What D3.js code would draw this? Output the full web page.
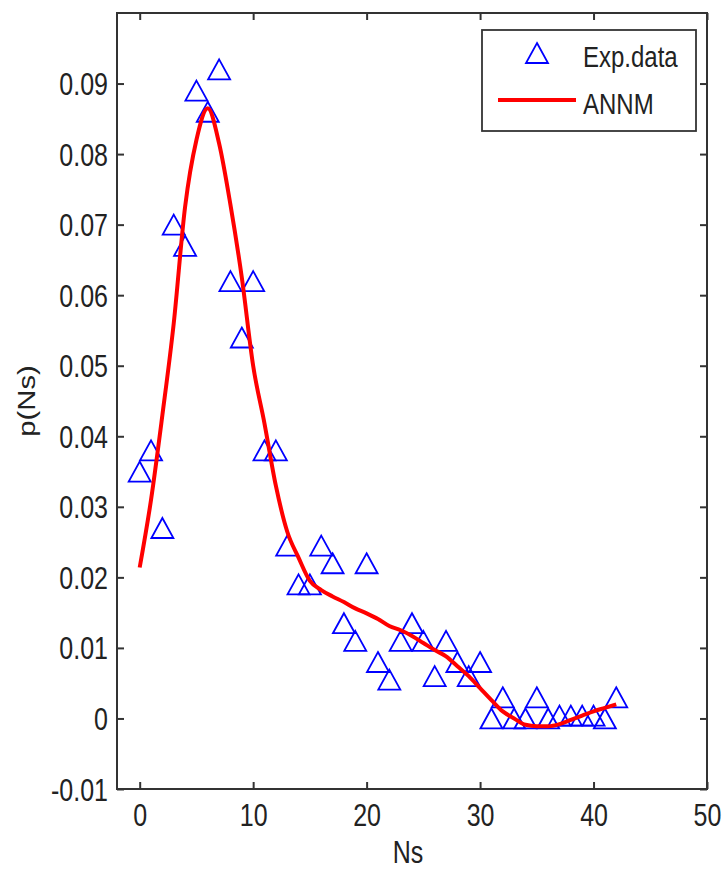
<!DOCTYPE html>
<html>
<head>
<meta charset="utf-8">
<script src="https://cdn.jsdelivr.net/npm/d3@7"></script>
<style>
  body { margin: 0; background: #fff; }
  svg { display: block; }
  text { font-family: "Liberation Sans", Arial, sans-serif; fill: #222; }
</style>
</head>
<body>
<svg id="chart" width="722" height="869"></svg>
<script>
// experimental points
const expNs = [0, 1, 2, 3, 4, 5, 6, 7, 8, 9, 10, 11, 12, 13, 14, 15, 16, 17, 18, 19, 20,
               21, 22, 23, 24, 25, 26, 27, 28, 29, 30, 31, 32, 33, 34, 35, 36, 37, 38, 39, 40, 41, 42];
const expP = [0.035, 0.038, 0.027, 0.070, 0.067, 0.089, 0.086, 0.092, 0.062, 0.054, 0.062,
              0.038, 0.038, 0.0245, 0.019, 0.019, 0.0245, 0.022, 0.0135, 0.011, 0.022,
              0.008, 0.0055, 0.011, 0.0135, 0.011, 0.006, 0.011, 0.008, 0.006, 0.008,
              0.0, 0.003, 0.0, 0.0, 0.003, 0.0, 0.0004, 0.0004, 0.0004, 0.0004, 0.0, 0.003];

// ANN model curve
const annNs = [0, 1, 2, 3, 4, 5, 6, 7, 8, 9, 10, 11, 12, 13, 14, 15, 16, 17, 18, 19, 20,
               21, 22, 23, 24, 25, 26, 27, 28, 29, 30, 31, 32, 33, 34, 35, 36, 37, 38, 39, 40, 41, 42];
const annP = [0.0214, 0.031, 0.043, 0.056, 0.0725, 0.082, 0.0865, 0.0815, 0.0728, 0.0625, 0.050,
              0.0418, 0.033, 0.0265, 0.0228, 0.0195, 0.0182, 0.0173, 0.0165, 0.0156, 0.0149,
              0.0141, 0.0131, 0.0125, 0.0117, 0.0107, 0.0097, 0.0088, 0.0074, 0.006, 0.0043,
              0.0026, 0.001, 0.0, -0.0009, -0.0011, -0.0011, -0.0008, -0.0002, 0.0004, 0.001, 0.0015, 0.002];

const xTicks = [0, 10, 20, 30, 40, 50];
const yTicks = [-0.01, 0, 0.01, 0.02, 0.03, 0.04, 0.05, 0.06, 0.07, 0.08, 0.09];
const legendNames = ["Exp.data", "ANNM"];

var pLeft = 117, pRight = 707, pTop = 13, pBottom = 789;
var stretch = 1.22;   // the source picture is stretched vertically

var svg = d3.select('#chart');

var x = d3.scaleLinear().domain([-2, 50]).range([pLeft, pRight]);
var y = d3.scaleLinear().domain([-0.01, 0.1]).range([pBottom, pTop]);

// axes: MATLAB style box with inward ticks
function styleAxis(g) {
    g.select(".domain").remove();
    g.selectAll(".tick line").attr("stroke", "#333").attr("stroke-width", 2);
}

var gx = svg.append("g").attr("transform", `translate(0,${pBottom})`)
    .call(d3.axisBottom(x).tickValues(xTicks).tickSize(-7).tickFormat(d => String(d)));
styleAxis(gx);
gx.selectAll(".tick text")
    .attr("y", null).attr("dy", null)
    .attr("font-size", 25)
    .attr("transform", `translate(0,37) scale(1,${stretch})`);

svg.append("g").attr("transform", `translate(0,${pTop})`)
    .call(d3.axisTop(x).tickValues(xTicks).tickSize(-7).tickFormat(""))
    .call(styleAxis);

// plain hyphen for the minus sign, like the original
var yFmt = d => d === 0 ? "0" : d.toFixed(2);

var gy = svg.append("g").attr("transform", `translate(${pLeft},0)`)
    .call(d3.axisLeft(y).tickValues(yTicks).tickSize(-7).tickFormat(yFmt));
styleAxis(gy);
gy.selectAll(".tick text")
    .attr("x", null).attr("dy", null)
    .attr("font-size", 25)
    .attr("text-anchor", "end")
    .attr("transform", `translate(-9,11) scale(1,${stretch})`);

svg.append("g").attr("transform", `translate(${pRight},0)`)
    .call(d3.axisRight(y).tickValues(yTicks).tickSize(-7).tickFormat(""))
    .call(styleAxis);

svg.append("rect")
    .attr("x", pLeft).attr("y", pTop)
    .attr("width", pRight - pLeft).attr("height", pBottom - pTop)
    .attr("fill", "none").attr("stroke", "#333").attr("stroke-width", 2);

// axis titles
svg.append("text")
    .attr("font-size", 25).attr("text-anchor", "middle")
    .attr("transform", `translate(408,863) scale(1,${stretch})`)
    .text("Ns");

svg.append("text")
    .attr("font-size", 24).attr("text-anchor", "middle")
    .attr("transform", `translate(35,${(pTop + pBottom) / 2}) rotate(-90) scale(${stretch},1)`)
    .text("p(Ns)");

// triangle marker, centred on its bounding box
var triW = 22, triH = 20;
function tri(cx, cy) {
    return `M${cx},${cy - triH / 2}L${cx + triW / 2},${cy + triH / 2}L${cx - triW / 2},${cy + triH / 2}Z`;
}

var plot = svg.append("g");

plot.selectAll("path.pt")
    .data(expNs.map((n, i) => ({ n: n, p: expP[i] })))
    .enter()
    .append("path")
    .attr("class", "pt")
    .attr("d", d => tri(x(d.n), y(d.p)))
    .attr("fill", "none")
    .attr("stroke", "#0000ff")
    .attr("stroke-width", 1.8);

var line = d3.line()
    .x(d => x(d.n))
    .y(d => y(d.p))
    .curve(d3.curveMonotoneX);

plot.append("path")
    .datum(annNs.map((n, i) => ({ n: n, p: annP[i] })))
    .attr("d", line)
    .attr("fill", "none")
    .attr("stroke", "#ff0000")
    .attr("stroke-width", 4)
    .attr("stroke-linejoin", "round");

// legend
var lg = svg.append("g");
lg.append("rect")
    .attr("x", 482).attr("y", 30).attr("width", 214).attr("height", 101)
    .attr("fill", "#fff").attr("stroke", "#333").attr("stroke-width", 1.8);
lg.append("path")
    .attr("d", tri(537, 53))
    .attr("fill", "none").attr("stroke", "#0000ff").attr("stroke-width", 1.8);
lg.append("line")
    .attr("x1", 498).attr("x2", 576).attr("y1", 100).attr("y2", 100)
    .attr("stroke", "#ff0000").attr("stroke-width", 4);
lg.selectAll("text.lab")
    .data(legendNames)
    .enter()
    .append("text")
    .attr("class", "lab")
    .attr("font-size", 24)
    .attr("transform", (d, i) => `translate(583,${i === 0 ? 67 : 114}) scale(1,${stretch})`)
    .text(d => d);
</script>
</body>
</html>
